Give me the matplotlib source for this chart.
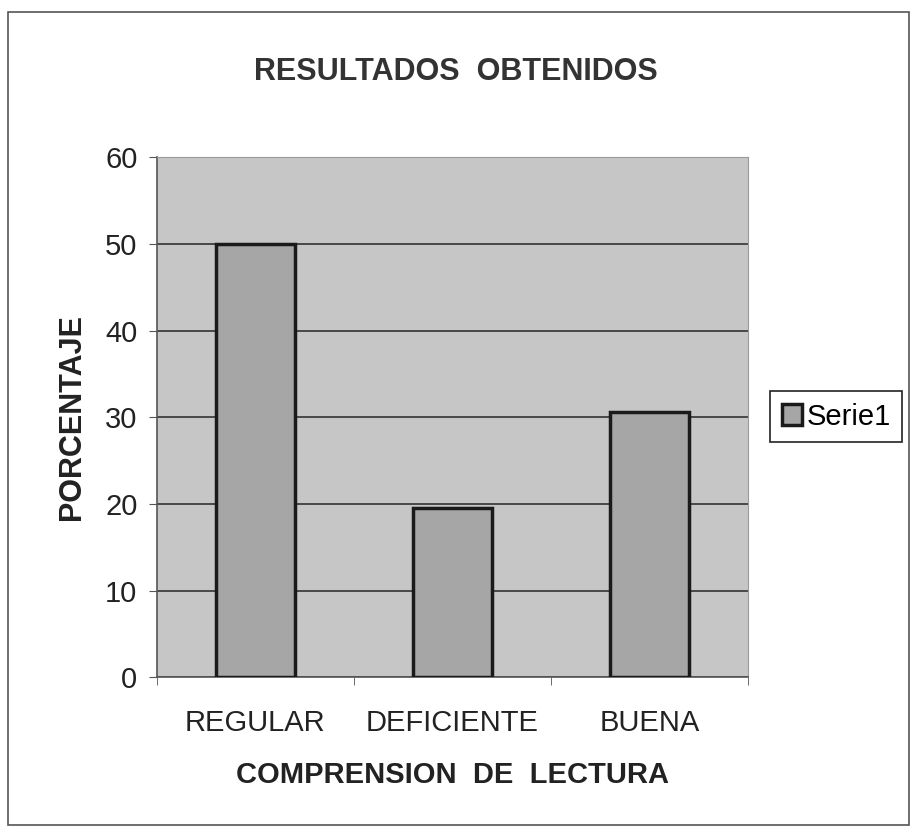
import numpy as np
import matplotlib.pyplot as plt
from matplotlib.patches import Rectangle

categorias = ['REGULAR', 'DEFICIENTE', 'BUENA']
porcentaje = [50, 19.5, 30.6]
yticks = [0, 10, 20, 30, 40, 50, 60]

plt.rcParams['font.family'] = ['Liberation Sans', 'DejaVu Sans']

fig = plt.figure(figsize=(9.12, 8.27), dpi=100)
fig.patches.append(Rectangle((0.009, 0.003), 0.988, 0.982, transform=fig.transFigure,
                             fill=False, edgecolor='#555555', linewidth=1.2))

ax = fig.add_axes([0.172, 0.181, 0.648, 0.629])
ax.set_facecolor('#c6c6c6')

x = np.arange(len(categorias))
ax.bar(x, porcentaje, width=0.4, color='#a6a6a6', edgecolor='#1a1a1a', linewidth=2.5,
       label='Serie1', zorder=3)

ax.set_xlim(-0.5, len(categorias) - 0.5)
ax.set_ylim(0, 60)
ax.set_yticks(yticks)
ax.yaxis.grid(True, color='#333333', linewidth=1.2, zorder=1)
ax.set_axisbelow(True)

# ticks between categories like Excel
ax.set_xticks(x)
ax.set_xticklabels(categorias, fontsize=21, color='#222222')
ax.tick_params(axis='x', length=0, pad=23)
ax.set_xticks(np.arange(-0.5, len(categorias)), minor=True)
ax.tick_params(axis='x', which='minor', length=6, color='#555555')
ax.tick_params(axis='y', labelsize=21, labelcolor='#222222', length=6, color='#555555', pad=8)

for s in ['top', 'right']:
    ax.spines[s].set_color('#9a9a9a')
    ax.spines[s].set_linewidth(0.8)
for s in ['left', 'bottom']:
    ax.spines[s].set_color('#555555')
    ax.spines[s].set_linewidth(1.2)

fig.text(0.5, 0.913, 'RESULTADOS  OBTENIDOS', ha='center', va='center',
         fontsize=22, fontweight='bold', color='#333333')
ax.set_xlabel('COMPRENSION  DE  LECTURA', fontsize=21, fontweight='bold',
              color='#222222', labelpad=17)
ax.set_ylabel('PORCENTAJE', fontsize=22, fontweight='bold', color='#222222', labelpad=13)

leg = fig.legend(loc='center', bbox_to_anchor=(0.917, 0.496), fontsize=21,
                 handlelength=0.7, handleheight=0.7, handletextpad=0.15,
                 borderpad=0.4, borderaxespad=0, fancybox=False, framealpha=1)
leg.get_frame().set_edgecolor('#222222')
leg.get_frame().set_linewidth(1.2)

fig.savefig('out.png', dpi=100, facecolor='white')
